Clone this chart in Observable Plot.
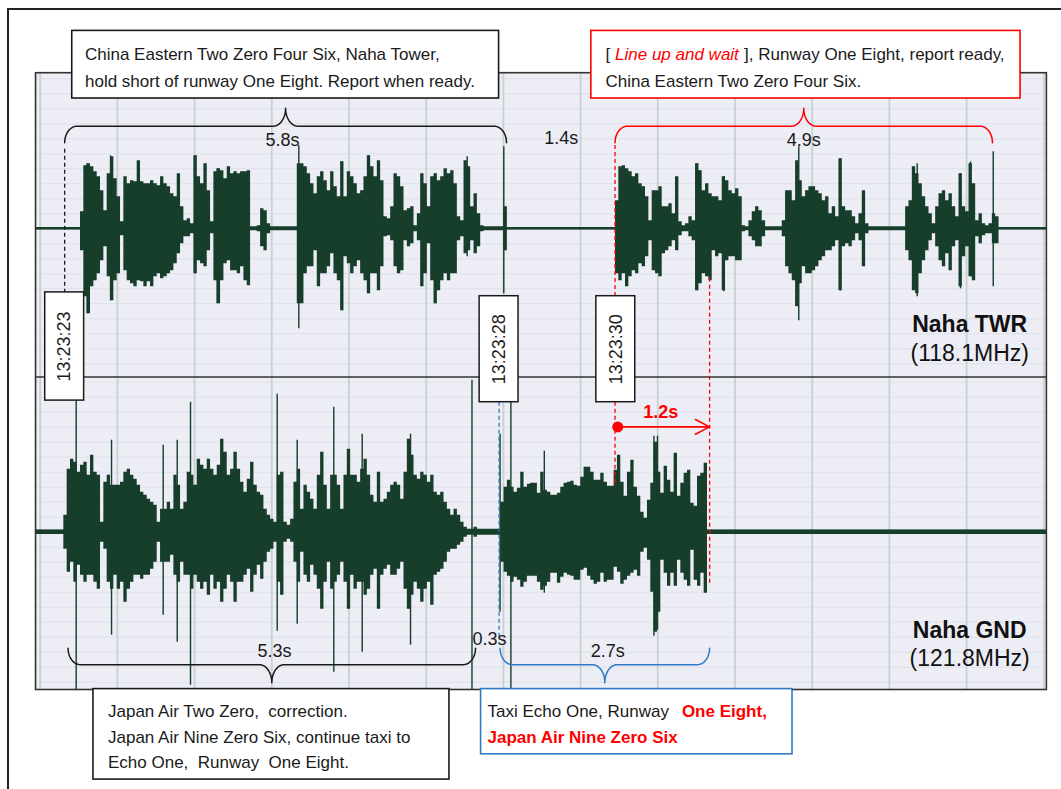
<!DOCTYPE html>
<html>
<head>
<meta charset="utf-8">
<script src="https://cdn.jsdelivr.net/npm/d3@7"></script>
<script src="https://cdn.jsdelivr.net/npm/@observablehq/plot@0.6"></script>
<style>
html, body { margin: 0; padding: 0; background: #fff; }
#wrap { position: relative; width: 1061px; height: 789px; overflow: hidden; background: #fff; }
#wrap svg { position: absolute; left: 0; top: 0; }
#border { position: absolute; left: 7px; top: 7.5px; width: 3000px; height: 3000px;
  border-left: 2px solid #222; border-top: 2px solid #222; pointer-events: none; z-index: 2; }
</style>
</head>
<body>
<div id="wrap"><div id="border"></div></div>
<script>
// ---------- styling constants ----------
const FONT = "'Liberation Sans', Arial, Helvetica, sans-serif";
const INK = "#1a1a1a";
const RED = "#ff0000";
const BLUE = "#2f7bc4";
const WAVE = "#173d2b";
const PANEL_BG = "#ecedf5";

// ---------- time / amplitude frame ----------
// x: seconds from the first grid line; y: amplitude units (≈ px) with TWR baseline at 0
const secondTicks = [0, 1, 2, 3, 4, 5, 6, 7, 8, 9, 10, 11, 12, 13];
const ampGrid = [-150, -135, -120, -105, -90, -75, -60, -45, -30, -15, 0, 15, 30, 45, 60, 75, 90, 105, 120, 135, 150];
const trackNames = ["Naha TWR", "Naha GND"];
const trackFreqs = ["(118.1MHz)", "(121.8MHz)"];
const trackBase = [0, -303.4];
const noiseHalf = [1.3, 2.3];
const panelStart = -0.054, panelEnd = 13.04;
const panelTop = 155.6, panelDivider = -148.2, panelBottom = -461.2;

// ---------- waveform envelopes ----------
const ENV_STEP = 0.0432; // seconds per envelope bin

const twrA_start = 0.5436;
const twrA_hi = [17,63,65,62,57,52,38,18,55,72, 50,32,7,52,45,48,47,68,47,45, 45,48,45,43,52,45,42,35,32,55,
  22,8,10,5,73,52,45,65,38,7, 57,60,58,50,62,55,57,55,57,57, 58,2,2,3,20,18,5,2,2,2,
  2,2,2,2,2,65,65,62,55,45, 35,52,57,48,38,57,42,32,67,32, 57,52,45,35,38,52,73,62,52,68,
  48,12,10,22,55,52,42,18,20,22, 3,15,55,45,22,52,55,48,52,60, 55,58,45,12,8,68,62,22,35,15,
  3,2,2,2,2,2,2,22];
const twrA_lo = [22,68,85,58,52,45,32,18,48,72, 52,45,7,42,52,55,58,52,53,58, 53,58,48,45,50,48,45,42,35,25,
  15,8,8,5,45,32,35,38,22,5, 52,75,52,35,32,42,42,45,38,52, 57,2,2,3,18,22,5,2,2,2,
  2,2,2,2,2,75,75,45,38,38, 22,58,45,45,38,25,45,52,82,28, 35,45,38,32,45,52,65,45,45,62,
  38,8,7,12,38,45,42,12,18,15, 3,12,58,45,15,52,75,62,52,45, 52,45,45,12,8,25,22,12,25,18,
  3,2,2,2,2,2,2,22];

const twrB_start = 7.4737;
const twrB_hi = [28,62,63,60,57,52,55,45,42,32, 8,38,38,42,22,22,25,15,52,7, 3,5,12,8,65,58,38,45,35,32,
  32,28,52,48,38,35,40,32,3,2, 8,17,22,18,8,2,2,2,2,2, 8,38,38,28,68,48,32,38,42,42,
  38,35,28,32,15,22,12,70,22,18, 18,12,5,15,38,5,2,2,2,2, 2,2,2,2,2,2,2,22,28,62,
  55,45,32,22,15,5,22,35,38,28, 35,22,12,55,22,17,65,45,8,15, 5,3,5,15,12];
const twrB_lo = [45,52,45,58,48,42,45,35,38,28, 12,42,45,48,25,22,18,12,22,7, 3,3,8,12,62,55,45,48,52,22,
  28,25,62,32,28,28,32,32,3,2, 8,12,18,18,8,2,2,2,2,2, 8,38,45,52,78,55,38,45,45,42,
  38,32,28,22,22,18,12,62,18,15, 18,12,5,12,38,5,2,2,2,2, 2,2,2,2,2,2,2,22,32,62,
  65,45,32,22,12,5,18,32,38,25, 42,18,12,58,28,18,48,52,8,15, 7,5,5,15,15];

const gnd_start = 0.3277;
const gnd_hi = [17,63,73,70,60,67,70,57,77,60, 57,10,50,57,47,47,47,50,60,63, 57,53,47,40,37,33,30,27,10,23,
  23,30,23,57,47,23,30,60,57,47, 73,67,63,73,63,57,67,93,80,57, 63,80,63,50,40,53,70,47,40,37,
  23,17,13,10,57,60,10,7,13,50, 63,23,47,40,33,23,57,80,47,23, 57,57,47,23,57,83,57,57,50,63,
  73,57,37,30,60,30,33,40,47,50, 47,33,60,93,77,57,53,60,57,50, 57,40,37,40,30,23,17,23,17,10,
  5,3,3,5,3,3,3,3,3,3, 3,30,45,52,45,40,44,60,45,48, 49,49,39,60,42,40,37,37,39,45,
  49,50,51,47,46,55,65,65,60,52, 52,59,50,46,46,62,77,50,36,60, 72,45,36,20,14,32,49,90,60,39,
  66,52,40,79,36,49,59,62,29,26, 56,59,69];
const gnd_lo = [17,40,30,50,33,43,50,43,43,50, 57,10,17,50,57,43,57,50,70,57, 50,43,43,47,43,43,37,30,10,30,
  30,30,23,43,50,30,43,43,57,43, 50,57,50,63,43,57,50,70,57,43, 50,70,50,50,43,37,60,43,33,47,
  30,20,17,10,50,63,10,7,10,30, 50,20,43,50,33,43,57,77,50,30, 57,50,43,30,50,77,43,57,50,50,
  63,57,43,37,77,43,37,33,43,43, 37,30,57,77,63,50,57,70,57,50, 73,43,40,37,30,20,17,17,13,10,
  5,3,3,5,3,3,3,3,3,3, 3,30,40,44,50,45,48,55,50,44, 44,44,50,58,54,50,41,41,51,45,
  41,43,44,48,48,38,36,44,48,52, 50,41,50,48,48,35,40,52,48,44, 41,38,44,20,16,28,60,100,80,28,
  41,54,41,54,28,41,48,54,18,48, 54,41,61];

// thin spikes that stand out of the envelope
const twrSpikeT  = [0.609,0.911,2.012,2.293,3.350,3.912,4.256,5.120,5.531,6.005,8.514,8.855,9.826,10.366,11.360,11.921,12.051,12.345];
const twrSpikeHi = [65,73,73,60,83,67,73,55,72,82,65,52,82,70,65,55,67,77];
const twrSpikeLo = [85,72,45,75,100,82,65,75,28,65,62,63,92,62,68,60,48,58];
const gndSpikeT  = [0.466,0.924,1.593,1.775,1.947,3.070,3.329,3.803,4.171,4.797,5.593,5.957,6.097,6.530,7.950,7.996];
const gndSpikeHi = [135,92,87,92,130,138,92,125,98,98,152,98,153,81,96,96];
const gndSpikeLo = [158,103,83,110,153,99,92,140,120,113,158,80,158,61,104,98];

// ---------- annotations ----------
const stampLabels = ["13:23:23", "13:23:28", "13:23:30"];
const stampTimes = [0.317, 5.944, 7.456];
const stampTop = [-63.6, -67.4, -67.4];
const stampBottom = [-171.8, -173.4, -173.4];
const STAMP_HALF = 0.252;

const braceLabels = ["5.8s", "4.9s", "5.3s", "2.7s"];
const braceStart = [0.317, 7.446, 0.361, 5.957];
const braceEnd = [6.040, 12.335, 5.639, 8.671];
const braceLine = [102.6, 102.6, -435.9, -435.9];
const braceDir = [1, 1, -1, -1];
const braceColor = [INK, RED, INK, BLUE];
const braceLabelT = [3.139, 9.891, 3.035, 7.352];
const braceLabelY = [83.0, 83.0, -428.5, -428.5];
const BRACE_RX = 0.16, BRACE_END = 16.5, BRACE_TIP = 18;

const gapLabels = ["1.4s", "0.3s"];
const gapT = [6.750, 5.820];
const gapY = [84.6, -416.3];

const dashT = [0.317, 7.446, 7.446, 8.671, 5.944];
const dashY1 = [79.6, 83.3, -173.4, -49.4, -173.4];
const dashY2 = [-63.6, -67.4, -257.7, -357.6, -408.7];
const dashColor = [INK, RED, RED, RED, BLUE];

const lagFrom = 7.481, lagTo = 8.671, lagY = -198.1;
const lagLabel = "1.2s", lagLabelT = 8.039, lagLabelY = -189.3;

const msgT1 = [0.415, 7.139, 0.690, 5.711];
const msgT2 = [5.944, 12.699, 5.301, 9.745];
const msgTop = [197.9, 197.9, -460.3, -460.3];
const msgBottom = [130.3, 130.3, -550.8, -525.5];
const msgStroke = [INK, RED, INK, BLUE];

const runText = [
  "China Eastern Two Zero Four Six, Naha Tower,",
  "hold short of runway One Eight. Report when ready.",
  "[", "Line up and wait", "], Runway One Eight, report ready,",
  "China Eastern Two Zero Four Six.",
  "Japan Air Two Zero,  correction.",
  "Japan Air Nine Zero Six, continue taxi to",
  "Echo One,  Runway  One Eight.",
  "Taxi Echo One, Runway", "One Eight,", "Japan Air Nine Zero Six"
];
const runT = [0.580, 0.580, 7.322, 7.446, 9.118, 7.322, 0.878, 0.878, 0.878, 5.794, 8.312, 5.794];
const runY = [168.8, 141.8, 168.8, 168.8, 168.8, 141.8, -488.3, -513.7, -539.0, -488.3, -488.3, -513.7];
const runColor = [INK, INK, INK, RED, INK, INK, INK, INK, INK, INK, RED, RED];
const runWeight = ["normal","normal","normal","normal","normal","normal","normal","normal","normal","normal","bold","bold"];
const runStyle = ["normal","normal","normal","italic","normal","normal","normal","normal","normal","normal","normal","normal"];

const labelT = [12.04, 12.04];
const labelNameY = [-103.5, -408.9];
const labelFreqY = [-132.2, -436.7];

// ---------- build rows ----------
function envelopeRows(start, hi, lo, base) {
  const t0 = start - ENV_STEP / 2;
  const rows = hi.map((h, i) => ({t: t0 + i * ENV_STEP, top: base + h, bottom: base - lo[i]}));
  const last = rows[rows.length - 1];
  rows.push({t: t0 + hi.length * ENV_STEP, top: last.top, bottom: last.bottom});
  return rows;
}
const envelopes = [
  envelopeRows(twrA_start, twrA_hi, twrA_lo, trackBase[0]),
  envelopeRows(twrB_start, twrB_hi, twrB_lo, trackBase[0]),
  envelopeRows(gnd_start, gnd_hi, gnd_lo, trackBase[1])
];
const spikes = [
  ...twrSpikeT.map((t, i) => ({t, top: trackBase[0] + twrSpikeHi[i], bottom: trackBase[0] - twrSpikeLo[i]})),
  ...gndSpikeT.map((t, i) => ({t, top: trackBase[1] + gndSpikeHi[i], bottom: trackBase[1] - gndSpikeLo[i]}))
];

const panel = [{t1: panelStart, t2: panelEnd, y1: panelBottom, y2: panelTop}];
const hLines = [];
ampGrid.forEach(a => {
  const yT = trackBase[0] + a, yG = trackBase[1] + a;
  if (yT < panelTop && yT > panelDivider) hLines.push({y: yT});
  if (yG < panelDivider && yG > panelBottom) hLines.push({y: yG});
});
const noise = trackBase.map((b, i) => ({t1: panelStart, t2: panelEnd, y1: b - noiseHalf[i], y2: b + noiseHalf[i]}));

function bracePoints(i) {
  const t0 = braceStart[i], t1 = braceEnd[i], yl = braceLine[i], s = braceDir[i];
  const ye = yl - s * BRACE_END, yc = yl + s * BRACE_TIP, tc = (t0 + t1) / 2;
  const half = [], N = 14;
  for (let k = 0; k <= N; k++) {
    const p = (Math.PI / 2) * k / N;
    half.push({t: t0 + BRACE_RX * (1 - Math.cos(p)), y: ye + (yl - ye) * Math.sin(p)});
  }
  for (let k = 0; k <= N; k++) {
    const p = (Math.PI / 2) * k / N;
    half.push({t: tc - BRACE_RX * (1 - Math.sin(p)), y: yl + (yc - yl) * (1 - Math.cos(p))});
  }
  const mirror = half.slice().reverse().map(d => ({t: 2 * tc - d.t, y: d.y}));
  return half.concat(mirror);
}

const stamps = stampLabels.map((label, i) => ({label, t: stampTimes[i], top: stampTop[i], bottom: stampBottom[i]}));
const dashes = dashT.map((t, i) => ({t, y1: dashY1[i], y2: dashY2[i], c: dashColor[i]}));
const boxes = msgT1.map((t1, i) => ({t1, t2: msgT2[i], top: msgTop[i], bottom: msgBottom[i], c: msgStroke[i]}));
const runs = runText.map((text, i) => ({text, t: runT[i], y: runY[i], c: runColor[i], w: runWeight[i], s: runStyle[i]}));

const marks = [
  Plot.rect(panel, {x1: "t1", x2: "t2", y1: "y1", y2: "y2", fill: PANEL_BG}),
  Plot.ruleY(hLines, {y: "y", x1: () => panelStart, x2: () => panelEnd, stroke: "#dfe0ea", strokeWidth: 1}),
  Plot.ruleX(secondTicks, {x: d => d, y1: () => panelBottom, y2: () => panelTop, stroke: "#c8d2d0", strokeWidth: 1.8}),
  Plot.rect(noise, {x1: "t1", x2: "t2", y1: "y1", y2: "y2", fill: WAVE}),
  ...envelopes.map(rows => Plot.area(rows, {x1: "t", y1: "bottom", y2: "top", curve: "step-after", fill: WAVE})),
  Plot.ruleX(spikes, {x: "t", y1: "bottom", y2: "top", stroke: WAVE, strokeWidth: 1.4}),
  Plot.ruleY([panelDivider], {y: d => d, x1: () => panelStart, x2: () => panelEnd, stroke: "#333", strokeWidth: 1.6}),
  Plot.rect(panel, {x1: "t1", x2: "t2", y1: "y1", y2: "y2", fill: "none", stroke: "#333", strokeWidth: 1.6}),
  // dashed markers
  ...dashes.map(d => Plot.ruleX([d], {x: "t", y1: "y1", y2: "y2", stroke: d.c, strokeWidth: 1.3, strokeDasharray: "4,3"})),
  // braces
  ...braceLabels.map((_, i) => Plot.line(bracePoints(i), {x: "t", y: "y", stroke: braceColor[i], strokeWidth: 1.5})),
  ...braceLabels.map((lab, i) => Plot.text([lab], {x: () => braceLabelT[i], y: () => braceLabelY[i], text: d => d,
      fontSize: 18, fill: INK, textAnchor: "middle", lineAnchor: "bottom"})),
  Plot.text(gapLabels, {x: (d, i) => gapT[i], y: (d, i) => gapY[i], text: d => d, fontSize: 18, fill: INK,
      textAnchor: "middle", lineAnchor: "bottom"}),
  // 1.2 s lag arrow
  Plot.arrow([{a: lagFrom, b: lagTo, y: lagY}], {x1: "a", x2: "b", y1: "y", y2: "y", stroke: RED, strokeWidth: 1.6,
      headLength: 15, headAngle: 55}),
  Plot.dot([{t: lagFrom, y: lagY}], {x: "t", y: "y", r: 5.5, fill: RED}),
  Plot.text([lagLabel], {x: () => lagLabelT, y: () => lagLabelY, text: d => d, fontSize: 18, fontWeight: "bold",
      fill: RED, textAnchor: "middle", lineAnchor: "bottom"}),
  // message boxes
  Plot.rect(boxes, {x1: "t1", x2: "t2", y1: "bottom", y2: "top", fill: "white", stroke: "c", strokeWidth: 1.6}),
  ...runs.map(r => Plot.text([r], {x: "t", y: "y", text: "text", fill: r.c, fontWeight: r.w, fontStyle: r.s,
      fontSize: 17, textAnchor: "start", lineAnchor: "bottom"})),
  // timestamps
  Plot.rect(stamps, {x1: d => d.t - STAMP_HALF, x2: d => d.t + STAMP_HALF, y1: "bottom", y2: "top",
      fill: "white", stroke: INK, strokeWidth: 1.5}),
  Plot.text(stamps, {x: "t", y: d => (d.top + d.bottom) / 2, text: "label", rotate: -90, fontSize: 18, fill: INK,
      textAnchor: "middle", lineAnchor: "middle"}),
  // track labels
  Plot.text(trackNames, {x: (d, i) => labelT[i], y: (d, i) => labelNameY[i], text: d => d, fontSize: 23,
      fontWeight: "bold", fill: "#111", textAnchor: "middle", lineAnchor: "bottom"}),
  Plot.text(trackFreqs, {x: (d, i) => labelT[i], y: (d, i) => labelFreqY[i], text: d => d, fontSize: 23,
      fill: "#111", textAnchor: "middle", lineAnchor: "bottom"})
];

const chart = Plot.plot({
  width: 1061,
  height: 789,
  marginTop: 0, marginRight: 0, marginBottom: 0, marginLeft: 0,
  x: {domain: [0, 13], range: [39.7, 1043.3], axis: null},
  y: {domain: [panelBottom, panelTop], range: [689.5, 72.7], axis: null},
  color: {type: "identity"},
  style: {fontFamily: FONT, fontSize: "17px", background: "transparent", overflow: "visible"},
  marks
});
document.getElementById("wrap").insertBefore(chart, document.getElementById("border"));
</script>
</body>
</html>
